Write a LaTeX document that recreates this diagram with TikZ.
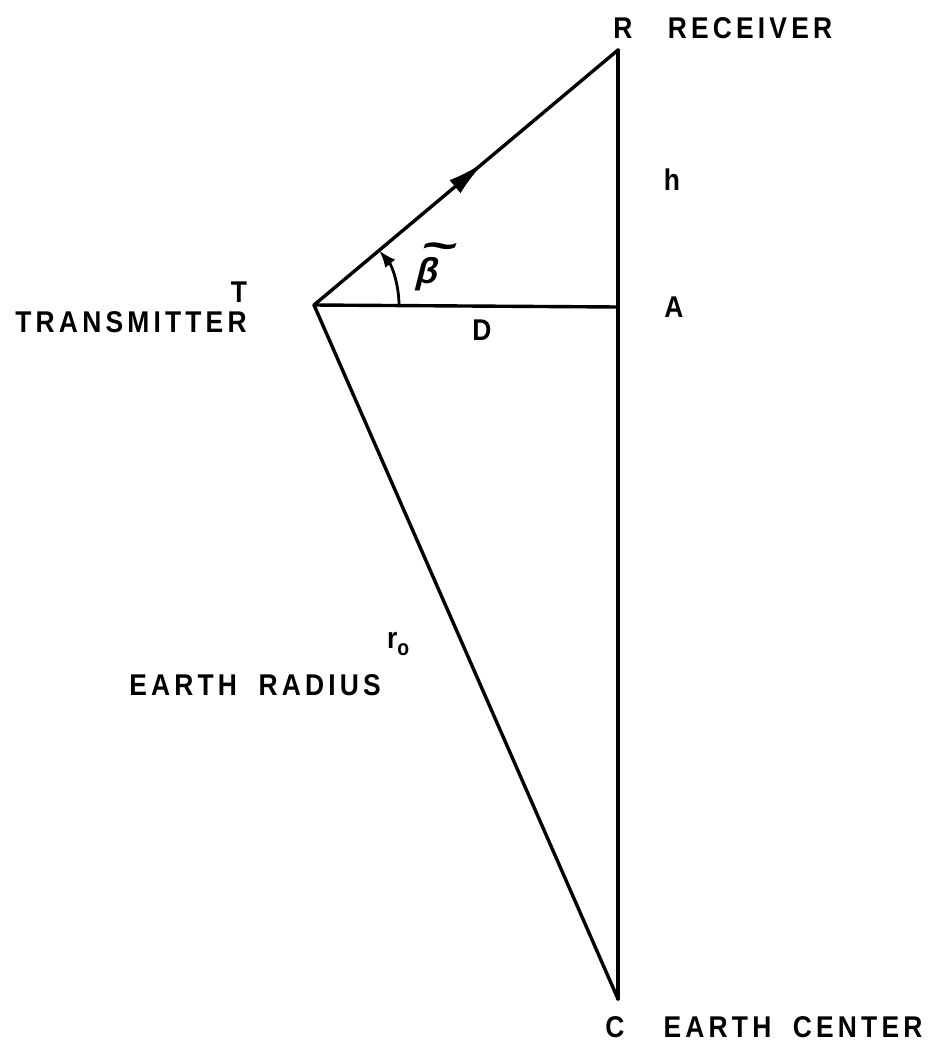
\documentclass[tikz,border=0pt]{standalone}
\usepackage{fontspec}
\setmainfont{Liberation Sans}
\newfontfamily\lbfont[LetterSpace=14,FakeStretch=0.88]{Liberation Sans Bold}
\newfontfamily\betafont[FakeSlant=0.25]{Liberation Sans Bold}
\usetikzlibrary{arrows.meta,decorations.markings}
\begin{document}
\begin{tikzpicture}[x=1pt,y=-1pt,
  edge/.style={line width=3.4pt,line cap=round,line join=round},
  lbl/.style={inner sep=0pt,font=\lbfont\fontsize{30}{33}\selectfont}]
\useasboundingbox[fill=white] (0,0) rectangle (943,1045);
\coordinate (T) at (314,305);
\coordinate (R) at (618,50);
\coordinate (A) at (618,307);
\coordinate (C) at (618,999);
% triangle sides
\draw[edge,postaction={decorate},decoration={markings,
  mark=at position 0.56 with {\arrow{Latex[length=38pt,width=17pt]}}}] (T) -- (R);
\draw[edge] (R) -- (C);
\draw[edge] (T) -- (A);
\draw[edge] (T) -- (C);
% angle arc
\draw[line width=2.8pt,-{Latex[length=17pt,width=13pt]}] ([shift={(0:85)}]T) arc[start angle=0,end angle=-39.8,radius=85];
% labels
\node[lbl] (Rl) at (623,28) {R};
\node[lbl] (Rec) at (750,28) {RECEIVER};
\node[lbl] (h) at (672,180) {h};
\node[lbl] (Tl) at (239,292) {T};
\node[lbl] (Tr) at (131,322) {TRANSMITTER};
\node[lbl] (D) at (482,330) {D};
\node[lbl] (Al) at (674,307) {A};
\node[inner sep=0pt,anchor=base,font=\betafont\fontsize{36}{38}\selectfont] (beta) at (425,283)
  {\rlap{\raisebox{23pt}{\kern3pt\scalebox{1.7}[1.2]{\char`\~}}}β};
\node[lbl,anchor=base west] (r0) at (387,648) {r\raisebox{-7pt}{\fontsize{22}{23}\selectfont o}};
\node[lbl] (ER) at (255,685) {EARTH\hspace{10pt} RADIUS};
\node[lbl] (Cl) at (615,1027) {C};
\node[lbl] (EC) at (793,1027) {EARTH\hspace{10pt} CENTER};
\end{tikzpicture}
\end{document}
